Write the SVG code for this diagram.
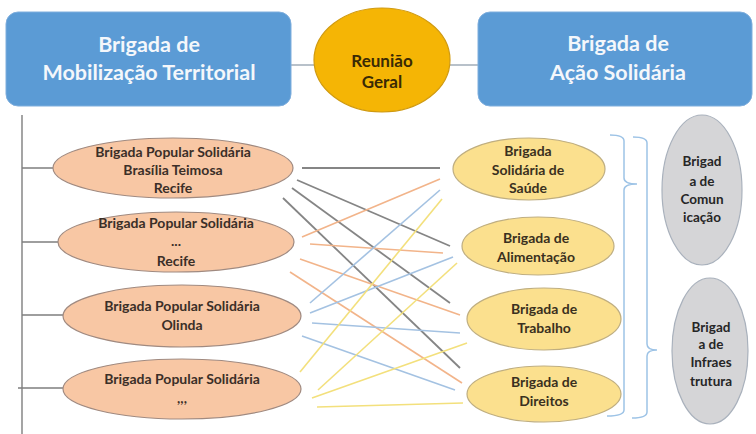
<svg xmlns="http://www.w3.org/2000/svg" width="756" height="434" viewBox="0 0 756 434">
<style>
.hbox{fill:#5B9BD5;stroke:#7FAEDD;stroke-width:1}
.htxt{font-family:Lato,"Liberation Sans",sans-serif;font-weight:bold;font-size:21.5px;fill:#F4F7FB;text-anchor:middle}
.ctxt{font-family:Lato,"Liberation Sans",sans-serif;font-weight:bold;font-size:17px;fill:#3A2A05;text-anchor:middle}
.sal{fill:#F8C7A4;stroke:#A08A80;stroke-width:1.2}
.stxt{font-family:Lato,"Liberation Sans",sans-serif;font-weight:bold;font-size:14px;fill:#3B2F28;text-anchor:middle}
.yel{fill:#FBE08E;stroke:#BFAE80;stroke-width:1.2}
.ytxt{font-family:Lato,"Liberation Sans",sans-serif;font-weight:bold;font-size:14px;fill:#3A3020;text-anchor:middle}
.gry{fill:#D5D5D7;stroke:#A9B1BC;stroke-width:1.2}
.gtxt{font-family:Lato,"Liberation Sans",sans-serif;font-weight:bold;font-size:13.5px;fill:#262626;text-anchor:middle}
.tree{stroke:#7F7F7F;stroke-width:1.4;fill:none}
.hl{stroke:#9AA7B4;stroke-width:1.4}
.g{stroke:#858585;stroke-width:1.8}
.o{stroke:#F2B48A;stroke-width:1.6}
.b{stroke:#A4C2E2;stroke-width:1.6}
.y{stroke:#F3E07C;stroke-width:1.6}
.brace{stroke:#9DC3E6;stroke-width:1.5;fill:none}
</style>
<g id="connectors">
<line class="hl" x1="291" y1="65" x2="314" y2="65"/>
<line class="hl" x1="450" y1="65" x2="478" y2="65"/>
<path class="tree" d="M22,115 V434 M22,168 H53 M22,242 H58 M22,315 H63 M18,388 H63"/>
<line class="g" x1="302" y1="168" x2="440" y2="168"/>
<line class="g" x1="297" y1="180" x2="450" y2="246"/>
<line class="g" x1="292" y1="188" x2="450" y2="303"/>
<line class="g" x1="283" y1="198" x2="460" y2="368"/>
<line class="o" x1="302" y1="237" x2="440" y2="179"/>
<line class="o" x1="310" y1="244" x2="443" y2="253"/>
<line class="o" x1="300" y1="259" x2="460" y2="315"/>
<line class="o" x1="290" y1="272" x2="462" y2="383"/>
<line class="b" x1="310" y1="303" x2="440" y2="190"/>
<line class="b" x1="310" y1="313" x2="453" y2="257"/>
<line class="b" x1="312" y1="323" x2="460" y2="333"/>
<line class="b" x1="302" y1="336" x2="455" y2="390"/>
<line class="y" x1="300" y1="372" x2="442" y2="199"/>
<line class="y" x1="318" y1="390" x2="457" y2="263"/>
<line class="y" x1="312" y1="398" x2="467" y2="343"/>
<line class="y" x1="317" y1="407" x2="463" y2="403"/>
<path class="brace" d="M610,135 Q624,135 624,141 L624,178 Q624,184 637,184 Q624,184 624,190 L624,410 Q624,416 607,416"/>
<path class="brace" d="M633,137 Q647,137 647,143 L647,344 Q647,350 657,350 Q647,350 647,356 L647,412 Q647,418 632,418"/>
</g>
<g id="mobilizacao">
<rect class="hbox" x="6" y="12" width="285" height="94" rx="12"/>
<text class="htxt" x="149" y="52">Brigada de</text>
<text class="htxt" x="149" y="80">Mobilização Territorial</text>
</g>
<g id="reuniao">
<ellipse cx="382" cy="60" rx="68" ry="52" fill="#F5B505" stroke="#D09A10" stroke-width="1.2"/>
<text class="ctxt" x="382" y="67">Reunião</text>
<text class="ctxt" x="382" y="88">Geral</text>
</g>
<g id="acao">
<rect class="hbox" x="478" y="12" width="274" height="94" rx="12"/>
<text class="htxt" x="618" y="51">Brigada de</text>
<text class="htxt" x="618" y="80">Ação Solidária</text>
</g>
<g id="bps1">
<ellipse class="sal" cx="173" cy="168" rx="120" ry="30"/>
<text class="stxt" x="173" y="157">Brigada Popular Solidária</text>
<text class="stxt" x="173" y="175">Brasília Teimosa</text>
<text class="stxt" x="173" y="193">Recife</text>
</g>
<g id="bps2">
<ellipse class="sal" cx="176" cy="242" rx="118" ry="30"/>
<text class="stxt" x="176" y="228">Brigada Popular Solidária</text>
<text class="stxt" x="176" y="246">...</text>
<text class="stxt" x="176" y="266">Recife</text>
</g>
<g id="bps3">
<ellipse class="sal" cx="182" cy="316" rx="119" ry="31"/>
<text class="stxt" x="182" y="311">Brigada Popular Solidária</text>
<text class="stxt" x="182" y="330">Olinda</text>
</g>
<g id="bps4">
<ellipse class="sal" cx="182" cy="389" rx="119" ry="30"/>
<text class="stxt" x="182" y="384">Brigada Popular Solidária</text>
<text class="stxt" x="182" y="403">,,,</text>
</g>
<g id="saude">
<ellipse class="yel" cx="529" cy="169" rx="76" ry="31"/>
<text class="ytxt" x="528" y="156">Brigada</text>
<text class="ytxt" x="528" y="175">Solidária de</text>
<text class="ytxt" x="528" y="193">Saúde</text>
</g>
<g id="alimentacao">
<ellipse class="yel" cx="538" cy="246" rx="76" ry="29"/>
<text class="ytxt" x="536" y="243">Brigada de</text>
<text class="ytxt" x="536" y="262">Alimentação</text>
</g>
<g id="trabalho">
<ellipse class="yel" cx="544" cy="319" rx="77" ry="31"/>
<text class="ytxt" x="544" y="314">Brigada de</text>
<text class="ytxt" x="544" y="333">Trabalho</text>
</g>
<g id="direitos">
<ellipse class="yel" cx="544" cy="394" rx="77" ry="28"/>
<text class="ytxt" x="544" y="387">Brigada de</text>
<text class="ytxt" x="544" y="406">Direitos</text>
</g>
<g id="comunicacao">
<ellipse class="gry" cx="702" cy="190" rx="40" ry="75"/>
<text class="gtxt" x="702" y="166">Brigad</text>
<text class="gtxt" x="702" y="186">a de</text>
<text class="gtxt" x="702" y="204">Comun</text>
<text class="gtxt" x="702" y="222">icação</text>
</g>
<g id="infraestrutura">
<ellipse class="gry" cx="710" cy="351" rx="38" ry="73"/>
<text class="gtxt" x="711" y="332">Brigad</text>
<text class="gtxt" x="711" y="349">a de</text>
<text class="gtxt" x="711" y="367">Infraes</text>
<text class="gtxt" x="711" y="386">trutura</text>
</g>
</svg>
